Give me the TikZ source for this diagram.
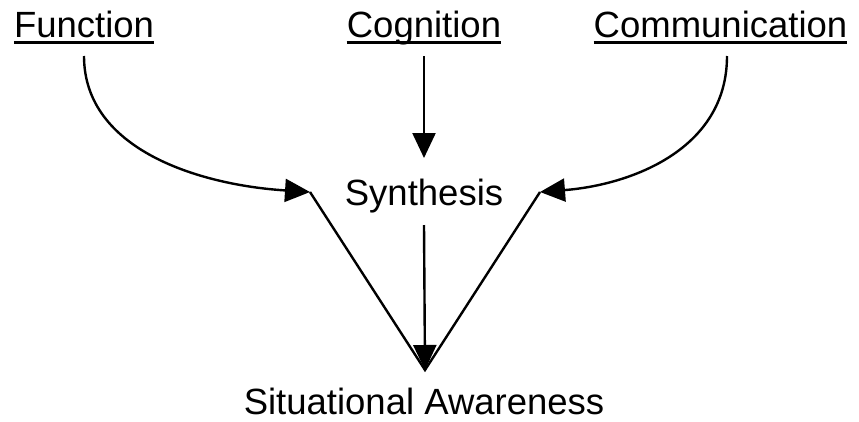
\documentclass[tikz,border=0pt]{standalone}
\usepackage{fontspec}
\setmainfont{Liberation Sans}
\usetikzlibrary{arrows.meta}
\begin{document}
\begin{tikzpicture}[x=1pt,y=-1pt,
  label/.style={inner sep=0pt,anchor=base,font=\fontsize{36.5}{44}\selectfont},
  link/.style={line width=2.4pt},
  arrowlink/.style={link,-{Triangle[length=25pt,width=23pt]}},
  uline/.style={line width=2.4pt}]
\useasboundingbox (0,0) rectangle (859,421);
% source labels
\node[label] (fun) at (84,37.5) {Function};
\node[label] (cog) at (424,37.5) {Cognition};
\node[label] (com) at (720.5,37.5) {Communication};
% underlines at a common depth below the baseline
\foreach \n in {fun,cog,com}
  \draw[uline] ([yshift=-5pt]\n.base west) -- ([yshift=-5pt]\n.base east);
% middle and result labels
\node[label] (syn) at (424,205.5) {Synthesis};
\node[label] (sa) at (424,414) {Situational Awareness};
% junction points
\coordinate (jl) at (310,192);
\coordinate (jr) at (540,192);
\coordinate (tip) at (425,370);
\coordinate (funs) at (84,56);
\coordinate (coms) at (727,56);
\coordinate (cogs) at (424,56);
\coordinate (cogt) at (424,158);
\coordinate (syns) at (424,225);
% inputs
\draw[arrowlink] (funs) .. controls (84,150) and (200,185) .. (jl);
\draw[arrowlink] (cogs) -- (cogt);
\draw[arrowlink] (coms) .. controls (727,150) and (630,185) .. (jr);
% converging lines
\draw[link] (jl) -- (tip) -- (jr);
\draw[arrowlink] (syns) -- (tip);
\end{tikzpicture}
\end{document}
